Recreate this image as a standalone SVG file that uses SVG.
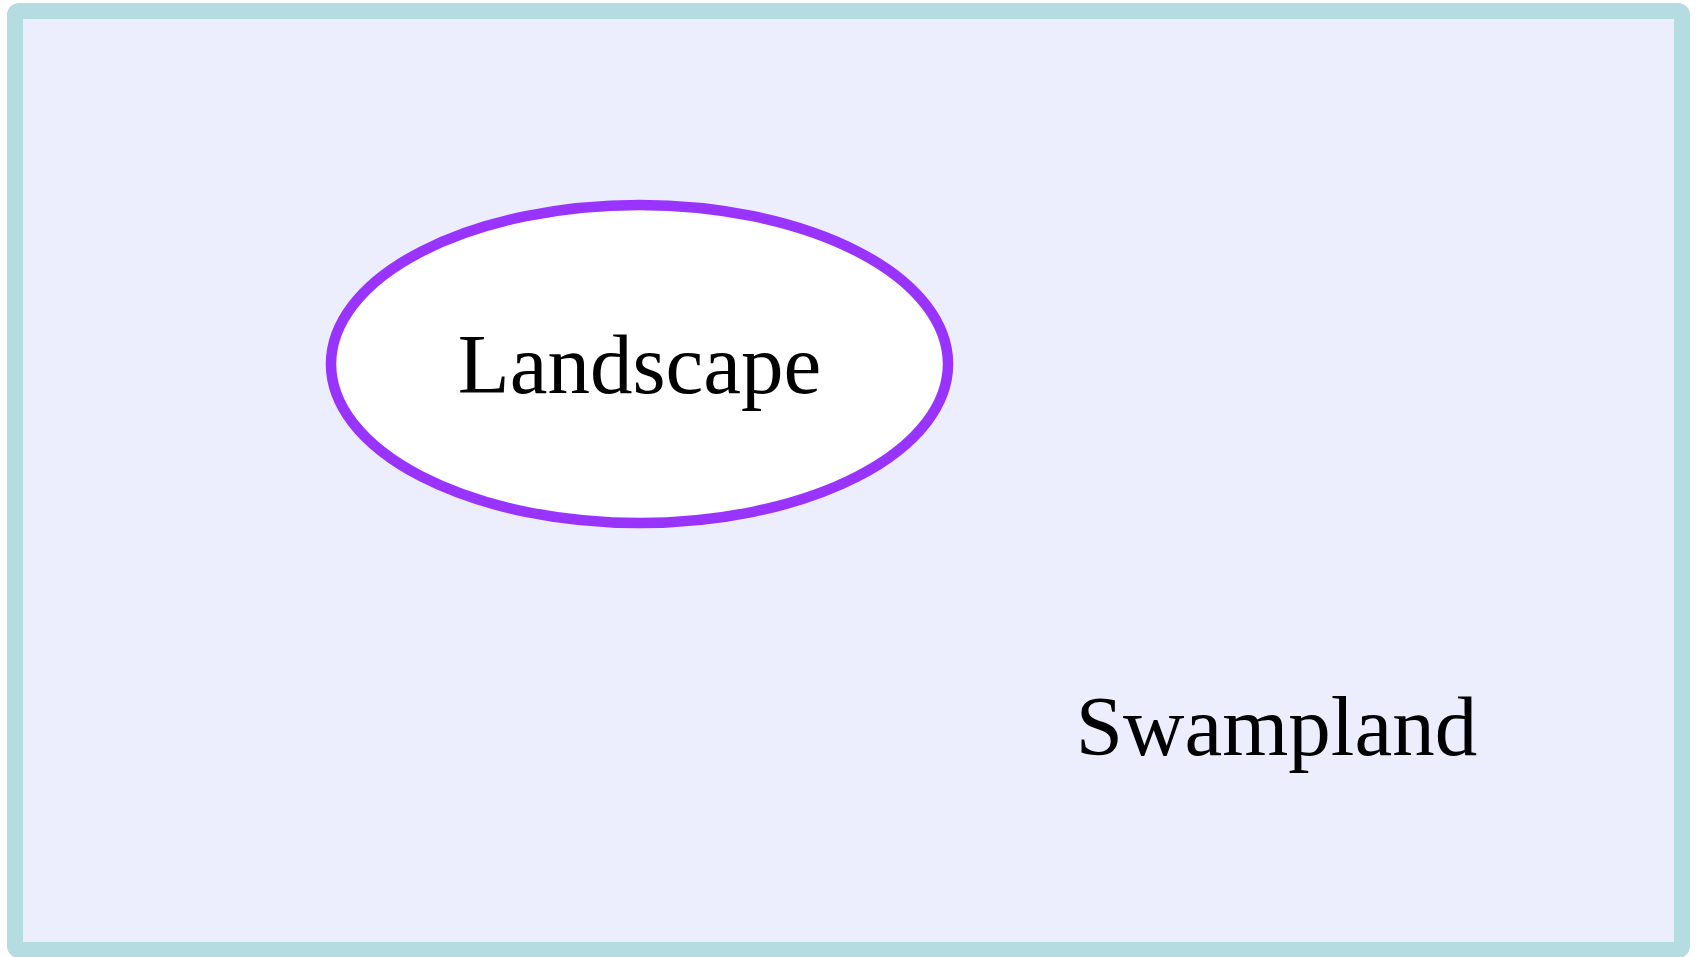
<svg xmlns="http://www.w3.org/2000/svg" width="1698" height="957" viewBox="0 0 1698 957">
  <style>
    .label { font-family: "Liberation Serif", "Times New Roman", serif; font-size: 85px; fill: #000000; text-anchor: middle; }
  </style>
  <!-- Swampland region: the outer frame -->
  <g id="swampland">
    <rect x="15" y="11" width="1667" height="939" rx="4" ry="4" fill="#edeefd" stroke="#b5dce0" stroke-width="16"/>
    <text class="label" x="1276.5" y="755">Swampland</text>
  </g>
  <!-- Landscape node -->
  <g id="landscape">
    <ellipse cx="639.5" cy="364" rx="308.5" ry="159" fill="#ffffff" stroke="#9933ff" stroke-width="10.5"/>
    <text class="label" x="639.5" y="393">Landscape</text>
  </g>
  <g id="connectors"></g>
</svg>
